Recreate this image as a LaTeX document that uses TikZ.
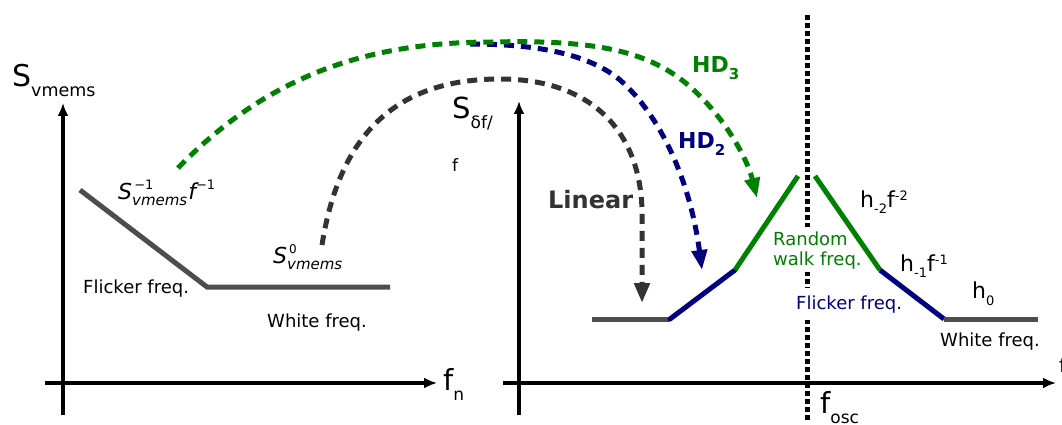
\documentclass[tikz,border=0pt]{standalone}
\usepackage{fontspec}
\setmainfont{DejaVu Sans}
\usetikzlibrary{arrows.meta}
\definecolor{hdgreen}{RGB}{0,128,0}
\definecolor{hdblue}{RGB}{0,0,128}
\definecolor{curvegray}{RGB}{77,77,77}
\definecolor{dgray}{RGB}{51,51,51}
\newcommand{\fsz}[1]{\fontsize{#1}{#1}\selectfont}
\newcommand{\supsub}[5]{{#1}\rlap{\raisebox{#4}{#2}}\raisebox{#5}{#3}}
\begin{document}
\begin{tikzpicture}[x=1pt,y=-1pt,
  lbl/.style={anchor=base west, inner sep=0pt},
  axisline/.style={line width=4pt, -{Latex[length=13pt,width=11pt]}},
  curveseg/.style={line width=5pt},
  harm/.style={line width=5pt, dash pattern=on 10pt off 7pt, -{Triangle[length=20pt,width=15pt]}},
  oscline/.style={line width=5pt, dash pattern=on 5pt off 3pt},
  whitebg/.style={anchor=base west, fill=white, inner xsep=1pt}
]
\useasboundingbox (0,0) rectangle (1062,425);

% ---------- left graph ----------
\coordinate (LVb) at (63,415);
\coordinate (LVt) at (63,103);
\coordinate (LHl) at (45,383);
\coordinate (LHr) at (437,383);
\draw[axisline] (LVb) -- (LVt);
\draw[axisline] (LHl) -- (LHr);

\node[lbl] (Sv) at (12,87) {\fsz{30}S\raisebox{-10pt}{\fsz{17.5}vmems}};
\node[lbl] (fn) at (443,390) {\fsz{29}f\raisebox{-10pt}{\fsz{17}n}};

\coordinate (L1) at (80,190);
\coordinate (L2) at (207,287);
\coordinate (L3) at (390,287);
\draw[curveseg, curvegray] (L1) -- (L2) -- (L3);

\node[lbl] (Sm1) at (118,199) {\fsz{22}\supsub{\itshape S}{\fsz{13}\,−1}{\fsz{15}\itshape vmems}{10pt}{-6pt}\hspace{1pt}{\itshape f}\raisebox{10pt}{\fsz{13}−1}};
\node[lbl] (S0) at (273,263) {\fsz{22}\supsub{\itshape S}{\fsz{12}\,0}{\fsz{15}\itshape vmems}{10pt}{-6pt}};
\node[lbl] (flL) at (83,293) {\fsz{18}Flicker freq.};
\node[lbl] (whL) at (267,327) {\fsz{18}White freq.};

% ---------- right graph ----------
\coordinate (RVb) at (519,415);
\coordinate (RVt) at (519,101);
\coordinate (RHl) at (503,383);
\coordinate (RHr) at (1056,383);
\draw[axisline] (RVb) -- (RVt);
\draw[axisline] (RHl) -- (RHr);

\node[lbl] (Sdf) at (452,118) {\fsz{29}S\raisebox{-10pt}{\fsz{17}δf/}};
\node[lbl] (Sdf2) at (452,171) {\fsz{17}f};
\node[lbl] (fcut) at (1059,372) {\fsz{20}f};

% osc line
\coordinate (Ot) at (807,15);
\coordinate (Ob) at (807,420);
\draw[oscline] (Ot) -- (Ob);
\node[lbl] (fosc) at (820,413) {\fsz{29}f\raisebox{-10pt}{\fsz{17}osc}};

\node[whitebg, inner ysep=4pt] (rw1) at (772,245) {\fsz{18}\color{hdgreen}Random};
\node[whitebg, inner ysep=3pt] (rw2) at (772,265) {\fsz{18}\color{hdgreen}walk freq.};
\node[whitebg, inner ysep=7pt] (flR) at (795,309) {\fsz{18}\color{hdblue}Flicker freq.};

\coordinate (R1) at (592,319);
\coordinate (R2) at (670,319);
\coordinate (R3) at (735,270);
\coordinate (R4) at (798,176);
\coordinate (R5) at (815,176);
\coordinate (R6) at (880,270);
\coordinate (R7) at (944,319);
\coordinate (R8) at (1038,319);
\draw[curveseg, curvegray] (R1) -- (R2);
\draw[curveseg, hdblue, line cap=round] (R2) -- (R3);
\draw[curveseg, hdgreen] (R3) -- (R4);
\draw[curveseg, hdgreen] (R5) -- (R6);
\draw[curveseg, hdblue] (R6) -- (R7);
\draw[curveseg, curvegray] (R7) -- (R8);

\node[lbl] (h2) at (860,207) {\fsz{22}h\raisebox{-6pt}{\fsz{13}-2}f\raisebox{7pt}{\fsz{13}-2}};
\node[lbl] (h1) at (900,271) {\fsz{22}h\raisebox{-6pt}{\fsz{13}-1}f\raisebox{7pt}{\fsz{13}-1}};
\node[lbl] (h0) at (972,298) {\fsz{22}h\raisebox{-7pt}{\fsz{13}0}};
\node[lbl] (whR) at (940,346) {\fsz{18}White freq.};

% ---------- harmonic arrows ----------
\coordinate (Bs) at (470,44);
\coordinate (Bm) at (620,80);
\coordinate (Be) at (702,270);
\draw[harm, hdblue] (Bs) .. controls (540,44) and (590,55) .. (Bm) .. controls (660,115) and (690,180) .. (Be);

\coordinate (Gs) at (178,168);
\coordinate (Gm) at (493,42);
\coordinate (Gn) at (667,70);
\coordinate (Ge) at (757,198);
\draw[harm, hdgreen] (Gs) .. controls (275,68) and (380,42) .. (Gm) .. controls (580,40) and (630,48) .. (Gn) .. controls (710,95) and (745,150) .. (Ge);

\coordinate (Ks) at (322,245);
\coordinate (Km) at (500,79);
\coordinate (Kb) at (642,210);
\coordinate (Ke) at (642,303);
\draw[harm, dgray] (Ks) .. controls (340,130) and (400,79) .. (Km) .. controls (590,79) and (640,130) .. (Kb) -- (Ke);

\node[lbl] (hd3) at (692,73) {\fsz{22}\bfseries\color{hdgreen}HD\raisebox{-7pt}{\fsz{15}3}};
\node[lbl] (hd2) at (678,148) {\fsz{22}\bfseries\color{hdblue}HD\raisebox{-7pt}{\fsz{15}2}};
\node[lbl] (lin) at (548,208) {\fsz{24}\bfseries\color{dgray}Linear};
\end{tikzpicture}
\end{document}
